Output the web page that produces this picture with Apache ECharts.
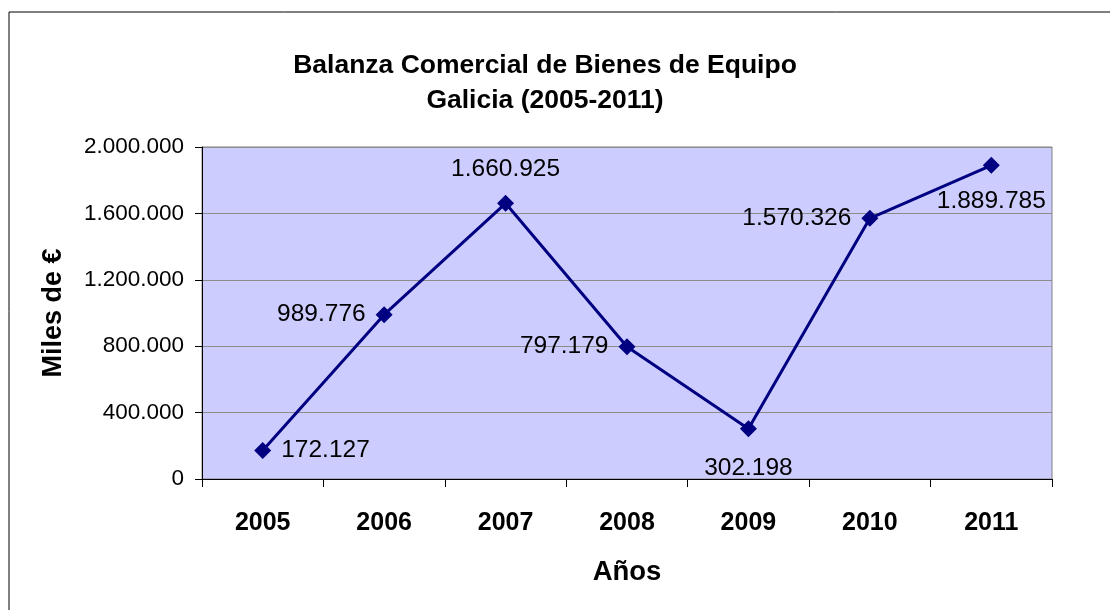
<!DOCTYPE html>
<html>
<head>
<meta charset="utf-8">
<script src="https://cdn.jsdelivr.net/npm/echarts@6/dist/echarts.min.js"></script>
<style>
  html, body { margin: 0; padding: 0; background: #fff; }
  #chart { width: 1110px; height: 610px; }
</style>
</head>
<body>
<div id="chart"></div>
<script>
// datos
var years = ['2005', '2006', '2007', '2008', '2009', '2010', '2011'];
var balanza = [172127, 989776, 1660925, 797179, 302198, 1570326, 1889785];
// posicion de cada etiqueta
var labelPos = ['right', 'left', 'top', 'left', 'bottom', 'left', 'bottom'];
var labelDist = [10, 10, 13, 10, 18, 10, 15];

function miles(v) {
  return String(v).replace(/\B(?=(\d{3})+(?!\d))/g, '.');
}

var font = 'Liberation Sans, Arial, sans-serif';

var chart = echarts.init(document.getElementById('chart'));

var points = balanza.map(function (v, i) {
  return {
    value: v,
    label: { position: labelPos[i], distance: labelDist[i] }
  };
});

chart.setOption({
  animation: false,
  title: {
    text: 'Balanza Comercial de Bienes de Equipo\nGalicia (2005-2011)',
    left: 540,
    top: 43,
    textAlign: 'center',
    textStyle: { fontFamily: font, fontSize: 26.5, fontWeight: 'bold', color: '#000', lineHeight: 35 }
  },
  graphic: [{
    type: 'rect',
    shape: { x: 9, y: 12, width: 1120, height: 620 },
    style: { fill: 'none', stroke: '#000', lineWidth: 1 },
    silent: true
  }],
  grid: {
    left: 202, top: 147, right: 58, bottom: 131,
    show: true, backgroundColor: '#CCCCFF', borderColor: '#808080', borderWidth: 1
  },
  xAxis: {
    type: 'category',
    data: years,
    name: 'Años',
    nameLocation: 'middle',
    nameGap: 79,
    nameTextStyle: { fontFamily: font, fontSize: 27.5, fontWeight: 'bold', color: '#000' },
    axisLine: { lineStyle: { color: '#000', width: 1 } },
    axisTick: { show: true, length: 8, lineStyle: { color: '#000' } },
    axisLabel: { fontFamily: font, fontSize: 25, fontWeight: 'bold', color: '#000', margin: 32 }
  },
  yAxis: {
    type: 'value',
    min: 0,
    max: 2000000,
    interval: 400000,
    name: 'Miles de €',
    nameLocation: 'middle',
    nameGap: 135,
    nameTextStyle: { fontFamily: font, fontSize: 27, fontWeight: 'bold', color: '#000' },
    axisLine: { show: true, lineStyle: { color: '#000', width: 1 } },
    axisTick: { show: true, length: 7, lineStyle: { color: '#000' } },
    axisLabel: { fontFamily: font, fontSize: 22.5, color: '#000', margin: 18, formatter: miles },
    splitLine: { lineStyle: { color: '#8c8c8c', width: 1 } }
  },
  series: [{
    type: 'line',
    data: points,
    symbol: 'diamond',
    symbolSize: 17,
    lineStyle: { color: '#000080', width: 3 },
    itemStyle: { color: '#000080' },
    label: {
      show: true,
      fontFamily: font,
      fontSize: 24.5,
      color: '#000',
      formatter: function (p) { return miles(p.value); }
    }
  }]
});
</script>
</body>
</html>
